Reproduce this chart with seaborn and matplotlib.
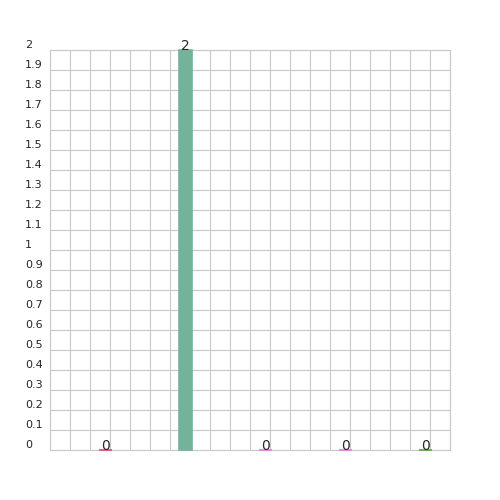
import numpy as np
import pandas as pd
import seaborn as sns
import matplotlib.pyplot as plt

# data
categories = ['A', 'B', 'C', 'D', 'E']
values = [0, 2, 0, 0, 0]
colors = ['#e8457f', '#72b39a', '#f07ad8', '#f07ad8', '#5aa846']

df = pd.DataFrame({'cat': categories, 'val': values})

sns.set_style('white')
plt.rcParams['font.family'] = ['DejaVu Sans']

fig = plt.figure(figsize=(5, 5), dpi=100)
ax = fig.add_axes([0.1, 0.1, 0.8, 0.8])

sns.barplot(data=df, x='cat', y='val', hue='cat', palette=dict(zip(categories, colors)),
            saturation=1, width=0.1625, legend=False, ax=ax)
for p, c in zip(ax.patches, colors):
    p.set_edgecolor(c)
    p.set_linewidth(1.2)
    p.set_zorder(3)
    p.set_clip_on(False)

for c in ax.containers:
    ax.bar_label(c, fontsize=10, padding=-2)

ax.set_xlim(-0.6875, 4.3125)
ax.set_ylim(0, 2)
ax.set_xticks(np.arange(-0.6875, 4.32, 0.25))
ax.set_yticks(np.round(np.arange(0, 2.01, 0.1), 1))
ax.yaxis.set_major_formatter(lambda v, pos: f'{v:g}')
ax.set_xticklabels([])
ax.tick_params(length=0)
ax.tick_params(axis='y', labelsize=8, pad=18)
for lab in ax.get_yticklabels():
    lab.set_horizontalalignment('left')
    lab.set_verticalalignment('bottom')
ax.grid(True, color='#c8c8c8', linewidth=0.8)
ax.set_axisbelow(True)
for s in ax.spines.values():
    s.set_color('#c8c8c8')
    s.set_linewidth(0.8)
ax.set_xlabel('')
ax.set_ylabel('')

fig.savefig('out.png', dpi=100)
